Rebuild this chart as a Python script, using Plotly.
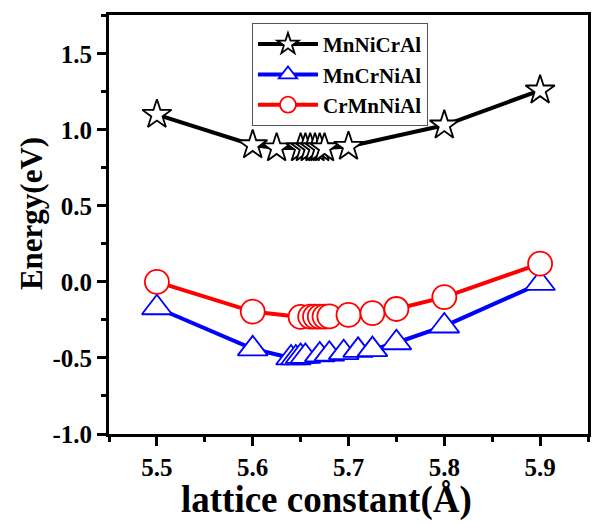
import plotly.graph_objects as go

# Data
x_mnnicral = [5.5, 5.6, 5.625, 5.65, 5.655, 5.66, 5.665, 5.67, 5.675, 5.7, 5.8, 5.9]
y_mnnicral = [1.10, 0.90, 0.88, 0.88, 0.88, 0.88, 0.88, 0.88, 0.88, 0.89, 1.03, 1.26]

x_mncrnial = [5.5, 5.6, 5.64, 5.645, 5.65, 5.655, 5.67, 5.68, 5.695, 5.71, 5.725, 5.75, 5.8, 5.9]
y_mncrnial = [-0.17, -0.44, -0.50, -0.50, -0.49, -0.49, -0.48, -0.475, -0.465, -0.45, -0.445, -0.40, -0.29, -0.01]

x_crmnnial = [5.5, 5.6, 5.65, 5.66, 5.665, 5.67, 5.675, 5.68, 5.7, 5.725, 5.75, 5.8, 5.9]
y_crmnnial = [0.00, -0.195, -0.23, -0.228, -0.228, -0.228, -0.228, -0.226, -0.217, -0.205, -0.178, -0.10, 0.12]

names = ["MnNiCrAl", "MnCrNiAl", "CrMnNiAl"]
colors = ["black", "blue", "red"]
symbols = ["star", "triangle-up", "circle"]
sizes = [22, 26, 24]

x_ticks = [5.5, 5.6, 5.7, 5.8, 5.9]
y_ticks = [-1.0, -0.5, 0.0, 0.5, 1.0, 1.5]

x_title = "lattice constant(Å)"
y_title = "Energy(eV)"

FONT = "Liberation Serif"

fig = go.Figure()
series = [(x_mnnicral, y_mnnicral), (x_mncrnial, y_mncrnial), (x_crmnnial, y_crmnnial)]
for (xs, ys), name, col, sym, sz in zip(series, names, colors, symbols, sizes):
    fig.add_trace(go.Scatter(
        x=xs, y=ys, name=name, mode="lines+markers",
        line=dict(color=col, width=4),
        marker=dict(symbol=sym, size=sz, color="white",
                    line=dict(color=col, width=1.8)),
    ))

axis_common = dict(
    showline=True, linecolor="black", linewidth=3, mirror=True,
    ticks="outside", tickwidth=3, ticklen=9, tickcolor="black",
    showgrid=False, zeroline=False, automargin=False,
    tickfont=dict(family=FONT, size=25, color="black", weight="bold"),
)

fig.update_xaxes(
    range=[5.45, 5.95], tickvals=x_ticks, ticktext=[f"{v:.1f}" for v in x_ticks],
    minor=dict(dtick=0.05, tick0=5.45, ticks="outside", ticklen=5, tickwidth=3, tickcolor="black"),
    **axis_common,
)
fig.update_yaxes(
    range=[-1.0, 1.755], tickvals=y_ticks, ticktext=[f"{v:.1f}" for v in y_ticks],
    minor=dict(dtick=0.25, tick0=0, ticks="outside", ticklen=5, tickwidth=3, tickcolor="black"),
    **axis_common,
)

fig.add_annotation(
    text=x_title, xref="paper", yref="paper", x=0.455, y=-0.158,
    xanchor="center", yanchor="middle", showarrow=False,
    font=dict(family=FONT, size=37, color="black", weight="bold"),
)
fig.add_annotation(
    text=y_title, xref="paper", yref="paper", x=-0.163, y=0.527,
    xanchor="center", yanchor="middle", showarrow=False, textangle=-90,
    font=dict(family=FONT, size=31, color="black", weight="bold"),
)

fig.update_layout(
    width=597, height=524,
    margin=dict(l=109, r=9, t=15, b=90),
    plot_bgcolor="white", paper_bgcolor="white",
    legend=dict(
        x=0.2985, y=0.981, xanchor="left", yanchor="top",
        bgcolor="white", bordercolor="#555555", borderwidth=1,
        font=dict(family=FONT, size=21, color="black", weight="bold"),
        itemwidth=60, tracegroupgap=0,
    ),
    showlegend=True,
)

fig.write_html(
    "out.html",
    config={"displayModeBar": False},
    post_script="document.body.style.margin='0';document.body.style.overflow='hidden';",
)
